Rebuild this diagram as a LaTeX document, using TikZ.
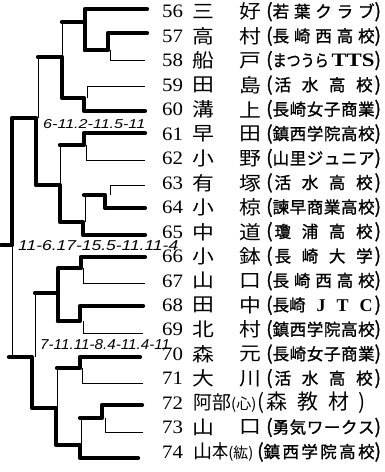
\documentclass[tikz,border=0pt]{standalone}
\usepackage{graphicx}
\usepackage{fontspec}
\setmainfont{Liberation Serif}
\newfontfamily\jp{Noto Sans CJK JP}
\newfontfamily\jpb[FakeBold=1.2]{Noto Sans CJK JP}
\newfontfamily\hand{Liberation Sans}
\newcommand\lp{{\fontsize{19}{19}\selectfont(}}
\newcommand\rp{{\fontsize{19}{19}\selectfont)}}
\tikzset{
  W/.style={line width=4.3pt, line cap=round, line join=round},
  N/.style={line width=0.9pt},
  numst/.style={anchor=west, inner sep=0pt, font=\fontsize{19}{19}\selectfont},
  namest/.style={inner sep=0pt, font=\jp\fontsize{19}{19}\selectfont},
  teamst/.style={anchor=west, inner sep=0pt, font=\jpb\fontsize{16.5}{16.5}\selectfont},
  scorest/.style={anchor=base west, inner sep=0pt, font=\hand\itshape},
}
\newcommand\prow[5]{%
  \node[numst] (n#1) at (162,#2) {\scalebox{1.1}[1]{#1}};
  \node[namest] (a#1) at (203.5,#2) {\scalebox{1.15}[1]{#3}};
  \node[namest] (b#1) at (250.5,#2) {\scalebox{1.15}[1]{#4}};
  \node[teamst] (t#1) at (266,#2) {\lp\hbox to 102pt{#5}\rp};
}
\begin{document}
\begin{tikzpicture}[x=1pt,y=-1pt]
\useasboundingbox (0,0) rectangle (385,472);
\fill[white] (0,0) rectangle (385,472);

% ---- text rows ----
\prow{56}{11.7}{三}{好}{若\hfill 葉\hfill ク\hfill ラ\hfill ブ}
\prow{57}{36.2}{高}{村}{長\hfill 崎\hfill 西\hfill 高\hfill 校}
\prow{58}{60.6}{船}{戸}{\scalebox{0.85}[1]{まつうら}\hfill\scalebox{1.2}[1]{\rmfamily\bfseries\fontsize{19}{19}\selectfont TTS}}
\prow{59}{85.1}{田}{島}{\hskip2pt 活\hfill 水\hfill 高\hfill 校\hskip2pt}
\prow{60}{109.5}{溝}{上}{長\hfill 崎\hfill 女\hfill 子\hfill 商\hfill 業}
\prow{61}{134.0}{早}{田}{鎮\hfill 西\hfill 学\hfill 院\hfill 高\hfill 校}
\prow{62}{158.5}{小}{野}{山\hfill 里\hfill ジ\hfill ュ\hfill ニ\hfill ア}
\prow{63}{182.9}{有}{塚}{\hskip2pt 活\hfill 水\hfill 高\hfill 校\hskip2pt}
\prow{64}{207.4}{小}{椋}{諫\hfill 早\hfill 商\hfill 業\hfill 高\hfill 校}
\prow{65}{231.8}{中}{道}{\hskip2pt 瓊\hfill 浦\hfill 高\hfill 校\hskip2pt}
\prow{66}{256.3}{小}{鉢}{\hskip2pt 長\hfill 崎\hfill 大\hfill 学\hskip2pt}
\prow{67}{280.8}{山}{口}{長\hfill 崎\hfill 西\hfill 高\hfill 校}
\prow{68}{305.2}{田}{中}{長崎\hfill {\rmfamily\bfseries\fontsize{18}{18}\selectfont J}\hfill {\rmfamily\bfseries\fontsize{18}{18}\selectfont T}\hfill {\rmfamily\bfseries\fontsize{18}{18}\selectfont C}\hskip2pt}
\prow{69}{329.7}{北}{村}{鎮\hfill 西\hfill 学\hfill 院\hfill 高\hfill 校}
\prow{70}{354.1}{森}{元}{長\hfill 崎\hfill 女\hfill 子\hfill 商\hfill 業}
\prow{71}{378.6}{大}{川}{\hskip2pt 活\hfill 水\hfill 高\hfill 校\hskip2pt}
\node[numst] (n72) at (162,403.1) {\scalebox{1.1}[1]{72}};
\node[namest, anchor=west] (a72) at (193,403.1) {阿部{\fontsize{15}{15}\selectfont (心)}};
\node[teamst, anchor=west, font=\jp\fontsize{21}{21}\selectfont] (t72) at (257,403.1) {(\hskip2pt 森\hskip10pt 教\hskip10pt 材\hskip9pt)};
\prow{73}{427.5}{山}{口}{勇\hfill 気\hfill ワ\hfill ー\hfill ク\hfill ス}
\node[numst] (n74) at (162,452.0) {\scalebox{1.1}[1]{74}};
\node[namest, anchor=west] (a74) at (193,452.0) {山{\scalebox{0.85}[1]{本}}{\fontsize{15}{15}\selectfont (紘)}};
\node[teamst] (t74) at (257,452.0) {\lp\hbox to 111pt{鎮\hfill 西\hfill 学\hfill 院\hfill 高\hfill 校}\rp};

% ---- top quarter A ----
\draw[N] (145,60) -- (110,60) -- (110,50);
\draw[N] (145,86) -- (87,86) -- (87,98);
\draw[N] (62,22) -- (62,57);
\draw[N] (38,57) -- (38,118);
\draw[W] (147,9) -- (85,9) -- (85,50);
\draw[W] (85,22) -- (62,22);
\draw[W] (147,33) -- (108,33) -- (108,50) -- (85,50);
\draw[W] (145,111) -- (84,111) -- (84,98) -- (62,98) -- (62,57) -- (38,57);

% ---- top quarter B ----
\draw[N] (145,160) -- (86,160) -- (86,145);
\draw[N] (145,185) -- (110,185) -- (110,195);
\draw[N] (85,195) -- (85,222);
\draw[N] (60,145) -- (60,185);
\draw[N] (12,245) -- (12,357);
\draw[W] (145,133) -- (84,133) -- (84,145) -- (60,145);
\draw[W] (145,208) -- (105,208) -- (105,195) -- (84,195);
\draw[W] (145,235) -- (83,235) -- (83,222) -- (60,222) -- (60,185) -- (36,185) -- (36,118) -- (12,118) -- (12,245) -- (1,245);

% ---- bottom quarter C ----
\draw[N] (145,283) -- (83,283) -- (83,268);
\draw[N] (143,333) -- (83,333) -- (83,321);
\draw[N] (35,293) -- (35,357);
\draw[W] (145,257) -- (81,257) -- (81,268) -- (58,268) -- (58,321);
\draw[W] (143,306) -- (80,306) -- (80,321) -- (58,321);
\draw[W] (58,293) -- (35,293);

% ---- bottom quarter D ----
\draw[N] (143,383) -- (82,383) -- (82,368);
\draw[N] (143,432) -- (105,432) -- (105,418);
\draw[N] (81,418) -- (81,445);
\draw[N] (57,368) -- (57,408);
\draw[W] (140,357) -- (80,357) -- (80,368) -- (57,368);
\draw[W] (142,405) -- (102,405) -- (102,418) -- (80,418);
\draw[W] (138,458) -- (80,458) -- (80,445) -- (56,445) -- (56,408) -- (32,408) -- (32,357) -- (9,357);

% ---- scores ----
\node[scorest] (s1) at (43,128) {\resizebox{102pt}{9pt}{6-11.2-11.5-11}};
\node[scorest] (s2) at (18,250) {\resizebox{160pt}{10pt}{11-6.17-15.5-11.11-4}};
\node[scorest] (s3) at (40,349) {\resizebox{130pt}{10pt}{7-11.11-8.4-11.4-11}};
\end{tikzpicture}
\end{document}
